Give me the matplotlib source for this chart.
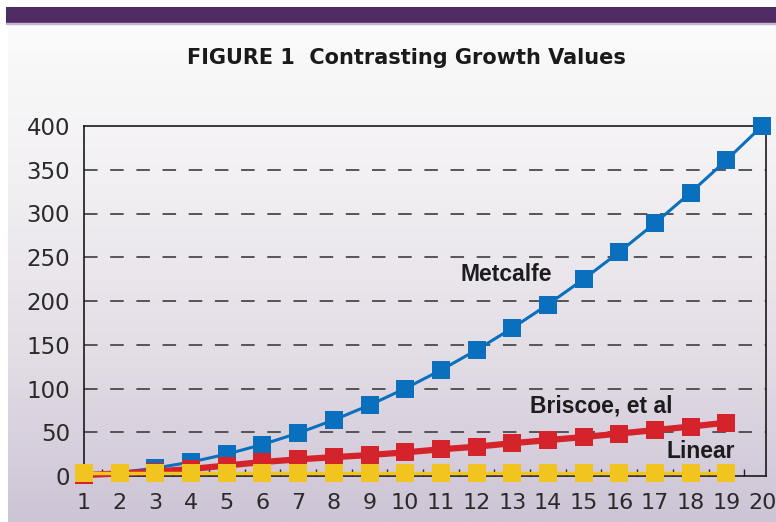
import numpy as np
import matplotlib
matplotlib.use("Agg")
import matplotlib.pyplot as plt
from matplotlib.colors import LinearSegmentedColormap

# ---- data ----
n = list(range(1, 21))
metcalfe = [1, 4, 9, 16, 25, 36, 49, 64, 81, 100, 121, 144, 169, 196, 225,
            256, 289, 324, 361, 400]
n19 = list(range(1, 20))
briscoe = [1, 3, 5, 8, 12, 16, 19, 21.5, 24, 27, 30.5, 33.5, 37.5, 41, 44.5,
           48.5, 52.5, 56.5, 61]
linear = [3] * 19
y_ticks = [0, 50, 100, 150, 200, 250, 300, 350, 400]
title = "FIGURE 1  Contrasting Growth Values"

W, H = 776, 522
fig = plt.figure(figsize=(W / 100, H / 100), dpi=100)
fig.patch.set_facecolor("white")

# background gradient panel
bg = fig.add_axes([8 / W, 0, 1 - 8 / W, (H - 24) / H])
bg.set_axis_off()
cmap = LinearSegmentedColormap.from_list(
    "bg", ["#fbfbfb", "#f1eff2", "#e3dde6", "#cdc4d5"])
grad = np.linspace(0, 1, 256).reshape(-1, 1)
bg.imshow(grad, aspect="auto", cmap=cmap, extent=[0, 1, 0, 1], origin="upper")
bg.set_xlim(0, 1)
bg.set_ylim(0, 1)

# purple band
band = fig.add_axes([6 / W, (H - 23) / H, 1 - 6 / W, 16 / H])
band.set_axis_off()
band.add_patch(plt.Rectangle((0, 0), 1, 1, color="#4f2b63", transform=band.transAxes))
band.add_patch(plt.Rectangle((0, -0.08), 1, 0.08, color="#c7b2d3",
                             transform=band.transAxes, clip_on=False))

ax = fig.add_axes([84 / W, 46 / H, (766 - 84) / W, (476 - 126) / H])
ax.set_facecolor("none")

ax.plot(n, metcalfe, color="#0a6fbd", lw=2.2, marker="s", ms=12.5,
        markeredgewidth=0, zorder=3, clip_on=False)
ax.plot(n19, briscoe, color="#d4232b", lw=4.5, marker="s", ms=12.5,
        markeredgewidth=0, zorder=4, clip_on=False)
ax.plot(n19, linear, color="#f2c420", lw=2.5, marker="s", ms=12.5,
        markeredgewidth=0, zorder=5, clip_on=False)

ax.set_xlim(1, 20.11)
ax.set_ylim(0, 400)

for yv in y_ticks[1:-1]:
    ax.axhline(yv, color="#4a4a4a", lw=1.3, dashes=(7.5, 7), zorder=1)

ax.set_xticks(n)
ax.set_xticklabels([str(v) for v in n])
ax.set_yticks(y_ticks)
ax.set_yticklabels([str(v) for v in y_ticks])
ax.set_xticks([v + 0.5 for v in n[:-1]], minor=True)
ax.tick_params(axis="x", which="major", length=0, pad=12, labelsize=16,
               labelcolor="#2a2a2a")
ax.tick_params(axis="x", which="minor", length=5, direction="in", width=1,
               color="#222222")
ax.tick_params(axis="y", which="major", length=0, pad=10, labelsize=16.5,
               labelcolor="#2a2a2a")
for s in ax.spines.values():
    s.set_color("#1a1a1a")
    s.set_linewidth(1.2)

lbl = dict(fontsize=16.5, fontweight="bold", color="#1c1c1c",
           family=["Liberation Sans", "DejaVu Sans"], va="center", ha="left",
           zorder=6)
ax.text(11.55, 230, "Metcalfe", **lbl)
ax.text(13.5, 80, "Briscoe, et al", **lbl)
ax.text(17.33, 28, "Linear", **lbl)

fig.text(406 / W, 1 - 58 / H, title, ha="center", va="center",
         fontsize=15, fontweight="bold", color="#1a1a1a",
         family=["DejaVu Sans"])

fig.savefig("out.png", dpi=100)
